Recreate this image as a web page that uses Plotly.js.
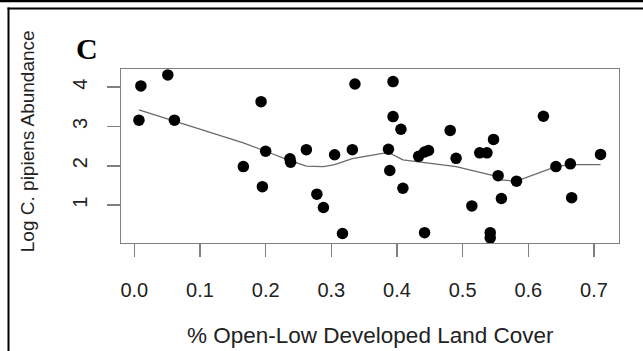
<!DOCTYPE html>
<html>
<head>
<meta charset="utf-8">
<script src="https://cdn.plot.ly/plotly-3.0.1.min.js"></script>
<style>
  html, body { margin: 0; padding: 0; background: #fff; }
  #chart { width: 643px; height: 351px; }
</style>
</head>
<body>
<div id="chart"></div>
<script>
// Share of open / low-intensity developed land around each site
const openLowCover = [
  0.010, 0.051, 0.007, 0.061, 0.166, 0.193, 0.200, 0.195, 0.237, 0.238,
  0.262, 0.278, 0.288, 0.305, 0.332, 0.336, 0.317, 0.394, 0.394, 0.406,
  0.387, 0.389, 0.409, 0.433, 0.442, 0.448, 0.442, 0.481, 0.490, 0.526,
  0.537, 0.514, 0.542, 0.542, 0.547, 0.554, 0.582, 0.559, 0.623, 0.642,
  0.664, 0.666, 0.710
];
// Log-transformed Culex pipiens counts at the same sites
const logAbundance = [
  4.03, 4.31, 3.16, 3.16, 1.98, 3.63, 2.37, 1.47, 2.18, 2.09,
  2.41, 1.28, 0.94, 2.28, 2.41, 4.08, 0.28, 4.14, 3.25, 2.93,
  2.42, 1.88, 1.43, 2.24, 2.35, 2.39, 0.30, 2.90, 2.19, 2.33,
  2.33, 0.98, 0.30, 0.17, 2.67, 1.75, 1.61, 1.17, 3.26, 1.98,
  2.05, 1.19, 2.29
];
// Smoothed (lowess) trend through the points
const smoothX = [0.007, 0.166, 0.200, 0.237, 0.262, 0.288, 0.305, 0.332, 0.358, 0.387,
                 0.409, 0.433, 0.490, 0.547, 0.557, 0.582, 0.642, 0.664, 0.710];
const smoothY = [3.42, 2.58, 2.37, 2.13, 1.99, 1.98, 2.03, 2.18, 2.26, 2.34,
                 2.15, 2.10, 1.98, 1.75, 1.64, 1.61, 1.98, 2.03, 2.03];

const xTicks = [0, 0.1, 0.2, 0.3, 0.4, 0.5, 0.6, 0.7];
const yTicks = [1, 2, 3, 4];

const panelLabel = 'C';
const xTitle = '% Open-Low Developed Land Cover';
const yTitle = 'Log C. pipiens Abundance';

// Plot-area geometry in pixels
const W = 643, H = 351;
const M = { l: 121, r: 24, t: 69, b: 108 };
const pw = W - M.l - M.r, ph = H - M.t - M.b;
const px = v => (v - M.l) / pw;          // page x -> paper x
const py = v => (H - M.b - v) / ph;      // page y -> paper y

const sans = 'Liberation Sans, Arial, Helvetica, sans-serif';
const grey = '#808080';

const traces = [
  {
    x: smoothX, y: smoothY, type: 'scatter', mode: 'lines',
    line: { color: '#6a6a6a', width: 1.3 }, hoverinfo: 'skip'
  },
  {
    x: openLowCover, y: logAbundance, type: 'scatter', mode: 'markers',
    marker: { color: '#000', size: 11.5 }
  }
];

const frameLine = (x0, y0, x1, y1, w) => ({
  type: 'line', xref: 'paper', yref: 'paper',
  x0: px(x0), y0: py(y0), x1: px(x1), y1: py(y1),
  line: { color: '#000', width: w }
});

const layout = {
  width: W, height: H,
  margin: M,
  paper_bgcolor: '#fff', plot_bgcolor: '#fff',
  showlegend: false,
  font: { family: sans, color: '#222' },
  xaxis: {
    range: [-0.0203, 0.7381],
    tickvals: xTicks, tickformat: '.1f',
    showgrid: false, zeroline: false,
    showline: true, mirror: true, linecolor: grey, linewidth: 1.4,
    ticks: 'outside', ticklen: 13, tickwidth: 1.4, tickcolor: grey,
    tickfont: { family: sans, size: 20, color: '#222' },
    ticklabelstandoff: 16
  },
  yaxis: {
    range: [0.038, 4.46],
    tickvals: yTicks,
    tickangle: -90,
    showgrid: false, zeroline: false,
    showline: true, mirror: true, linecolor: grey, linewidth: 1.4,
    ticks: 'outside', ticklen: 13, tickwidth: 1.4, tickcolor: grey,
    tickfont: { family: sans, size: 20, color: '#222' },
    ticklabelstandoff: 12
  },
  annotations: [
    {
      text: panelLabel, xref: 'paper', yref: 'paper',
      x: px(86.5), y: py(49), xanchor: 'center', yanchor: 'middle',
      showarrow: false,
      font: { family: 'Liberation Serif, Times New Roman, serif', size: 30, color: '#000', weight: 'bold' }
    },
    {
      text: xTitle, xref: 'paper', yref: 'paper',
      x: 0.5, y: py(335), xanchor: 'center', yanchor: 'middle',
      showarrow: false,
      font: { family: sans, size: 22.5, color: '#222' }
    },
    {
      text: yTitle, xref: 'paper', yref: 'paper',
      x: px(27.5), y: py(141.7), xanchor: 'center', yanchor: 'middle',
      textangle: -90, showarrow: false,
      font: { family: sans, size: 19, color: '#222' }
    }
  ],
  shapes: [
    frameLine(0, 1, W, 1, 2.5),
    frameLine(7.5, 8.5, W, 8.5, 2),
    frameLine(8.5, 7.5, 8.5, H, 2)
  ]
};

Plotly.newPlot('chart', traces, layout, { staticPlot: true, displayModeBar: false });
</script>
</body>
</html>
